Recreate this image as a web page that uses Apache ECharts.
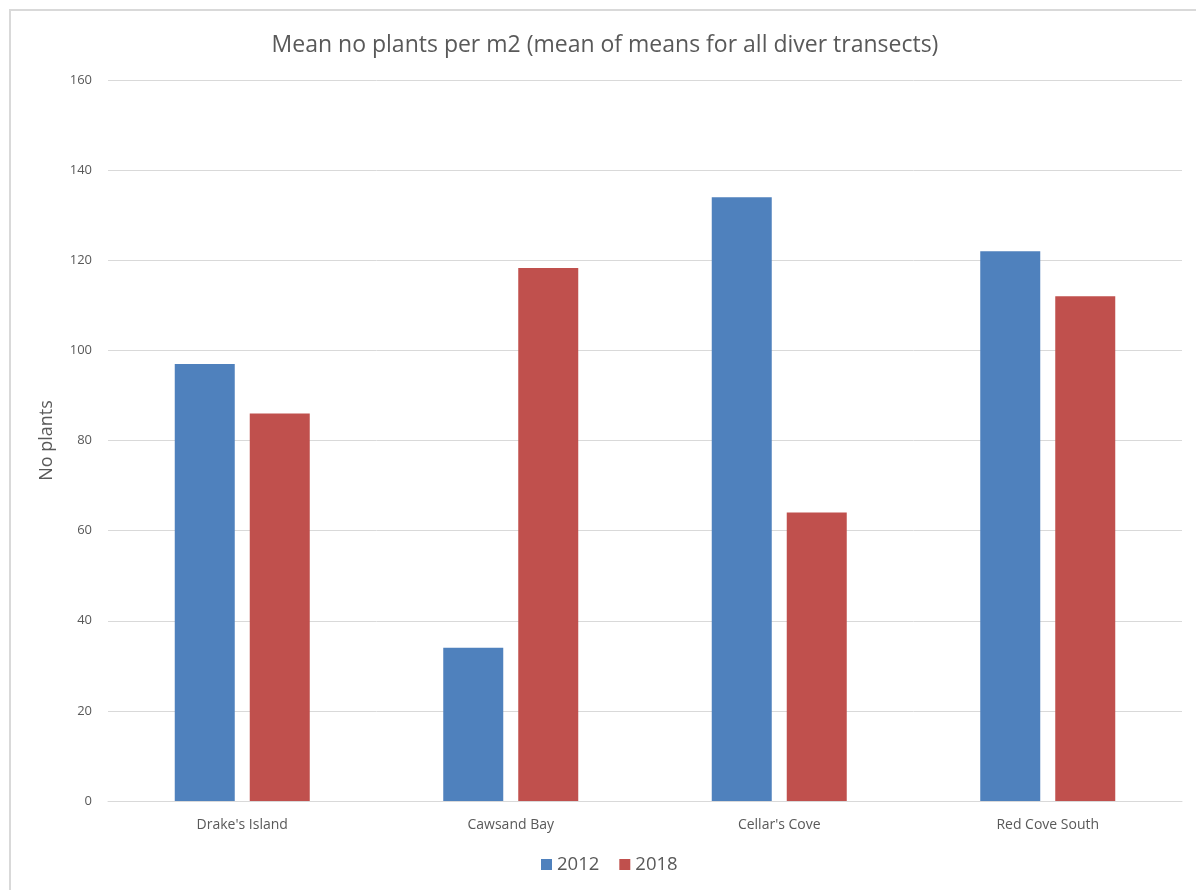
<!DOCTYPE html>
<html>
<head>
<meta charset="utf-8">
<script src="https://cdn.jsdelivr.net/npm/echarts@6/dist/echarts.min.js"></script>
<style>
html,body{margin:0;padding:0;background:#fff;overflow:hidden;}
#frame{position:absolute;left:9px;top:9px;width:1300px;height:1000px;border-left:2px solid #d9d9d9;border-top:2px solid #d9d9d9;}
#chart{position:absolute;left:0;top:0;width:1196px;height:890px;}
</style>
</head>
<body>
<div id="frame"></div>
<div id="chart"></div>
<script>
const categories = ["Drake's Island", "Cawsand Bay", "Cellar's Cove", "Red Cove South"];
const series2012 = [97, 34, 134, 122];
const series2018 = [86, 118.3, 64, 112];
const seriesNames = ["2012", "2018"];
const yTicks = { min: 0, max: 160, interval: 20 };

const chart = echarts.init(document.getElementById('chart'), null, {renderer: 'canvas'});
const font = 'Open Sans, Liberation Sans, sans-serif';
chart.setOption({
  animation: false,
  backgroundColor: 'transparent',
  title: {
    text: 'Mean no plants per m2 (mean of means for all diver transects)',
    left: 600, top: 29, textAlign: 'center',
    textStyle: { fontFamily: font, fontSize: 23, fontWeight: 'normal', color: '#595959' }
  },
  legend: {
    data: seriesNames,
    left: 536, top: 850,
    itemWidth: 11, itemHeight: 11, itemGap: 20,
    icon: 'rect',
    textStyle: { fontFamily: font, fontSize: 18.5, color: '#595959' }
  },
  grid: { left: 108, right: 14, top: 80, bottom: 89, containLabel: false },
  xAxis: {
    type: 'category', data: categories,
    axisLine: { lineStyle: { color: '#d9d9d9', width: 1 } },
    axisTick: { show: false },
    axisLabel: { fontFamily: font, fontSize: 14, color: '#595959', margin: 17 }
  },
  yAxis: {
    type: 'value', min: yTicks.min, max: yTicks.max, interval: yTicks.interval,
    name: 'No plants', nameLocation: 'middle', nameGap: 52, nameRotate: 90,
    nameTextStyle: { fontFamily: font, fontSize: 18, color: '#595959' },
    axisLine: { show: false }, axisTick: { show: false },
    axisLabel: { fontFamily: font, fontSize: 13, color: '#595959', margin: 16 },
    splitLine: { lineStyle: { color: '#d9d9d9', width: 1 } }
  },
  series: [
    { name: seriesNames[0], type: 'bar', data: series2012, barWidth: 60, barGap: '25%',
      itemStyle: { color: '#4f81bd' } },
    { name: seriesNames[1], type: 'bar', data: series2018, barWidth: 60, barGap: '25%',
      itemStyle: { color: '#c0504d' } }
  ]
});
</script>
</body>
</html>
